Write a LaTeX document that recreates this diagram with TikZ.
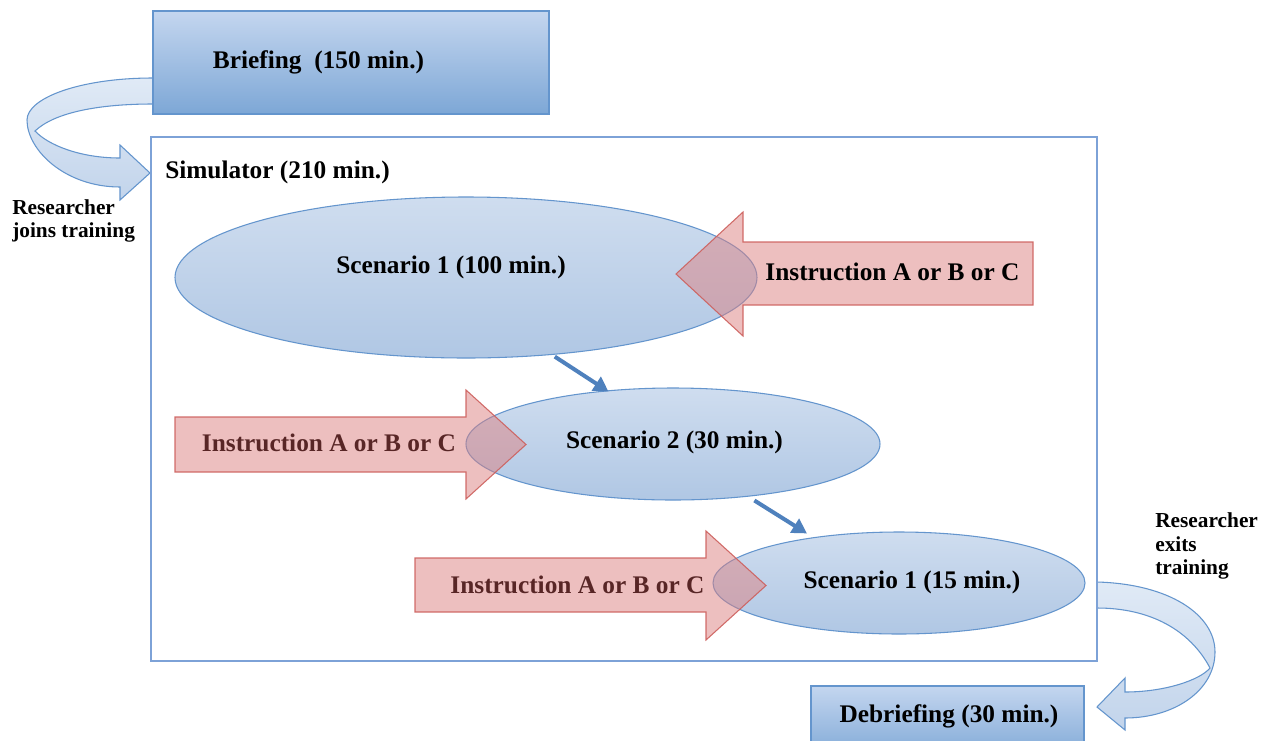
\documentclass[tikz,border=0pt]{standalone}
\usepackage{fontspec}
\setmainfont{Liberation Serif}
\usetikzlibrary{shapes.geometric,arrows.meta,calc}
\definecolor{bluebord}{RGB}{100,149,205}
\definecolor{boxtop}{RGB}{196,214,239}
\definecolor{boxbot}{RGB}{125,167,214}
\definecolor{elltop}{RGB}{207,221,239}
\definecolor{ellbot}{RGB}{176,199,228}
\definecolor{redfill}{RGB}{221,129,129}
\definecolor{redbord}{RGB}{205,95,92}
\definecolor{ribtop}{RGB}{224,234,246}
\definecolor{ribbot}{RGB}{194,212,235}
\definecolor{simbord}{RGB}{125,162,215}
\definecolor{arrblue}{RGB}{79,129,189}
\definecolor{darkred}{RGB}{88,38,38}
\tikzset{
  bigtext/.style={font=\fontsize{19}{22}\selectfont\bfseries, inner sep=0pt},
  sidetext/.style={font=\fontsize{16}{17.3}\selectfont\bfseries, inner sep=0pt, align=left},
  bluebox/.style={draw=bluebord, line width=0.8pt, top color=boxtop, bottom color=boxbot},
  scen/.style={ellipse, draw=bluebord, line width=0.8pt, top color=elltop, bottom color=ellbot, inner sep=0pt, outer sep=0pt},
  redarrow/.style={fill=redfill, fill opacity=0.5, draw=redbord, draw opacity=0.9, line width=0.8pt, line join=miter},
  ribbon/.style={draw=bluebord, line width=0.8pt, top color=ribtop, bottom color=ribbot},
  flow/.style={draw=arrblue, line width=3pt, -{Triangle[length=11pt,width=12pt]}}
}
\begin{document}
\begin{tikzpicture}[x=0.75pt,y=-0.75pt]
\clip (0,0) rectangle (1271,740);
\fill[white] (0,0) rectangle (1271,740);

% ribbons (curved arrows)
\path[ribbon] (153,78) .. controls (80,78) and (27,98) .. (27,120)
  .. controls (27,150) and (65,187) .. (120,187)
  -- (120,200) -- (150,173) -- (120,145) -- (120,158)
  .. controls (80,158) and (48,145) .. (35,131)
  .. controls (55,112) and (100,104) .. (153,104) -- cycle;
\path[ribbon] (1097,582) .. controls (1170,584) and (1215,615) .. (1215,652)
  .. controls (1215,690) and (1175,718) .. (1125,718)
  -- (1125,730) -- (1097,707) -- (1125,678) -- (1125,692)
  .. controls (1165,692) and (1200,680) .. (1210,668)
  .. controls (1190,630) and (1150,608) .. (1097,608) -- cycle;

% briefing
\path[bluebox] (153,11) rectangle (549,114);
\node[bigtext] (brief) at (318.5,62) {Briefing\ \ (150 min.)};

% simulator
\node[draw=simbord, line width=1.1pt, fill=white, minimum width=709.5pt, minimum height=393pt, inner sep=0pt, outer sep=0pt] (sim) at (624,399) {};
\node[bigtext, anchor=west] (simlab) at (165,172) {Simulator (210 min.)};

% scenarios
\node[scen, minimum width=436.5pt, minimum height=120.75pt] (e1) at (466,277.5) {};
\node[scen, minimum width=310.5pt, minimum height=84pt] (e2) at (673,444) {};
\node[scen, minimum width=279pt, minimum height=76.5pt] (e3) at (899,583) {};

% instruction arrows
\path[redarrow] (1033,242) -- (743,242) -- (743,212) -- (676,274) -- (743,336) -- (743,305) -- (1033,305) -- cycle;
\path[redarrow] (175,417) -- (466,417) -- (466,390) -- (526,444.5) -- (466,499) -- (466,472) -- (175,472) -- cycle;
\path[redarrow] (415,558) -- (706,558) -- (706,531) -- (766,585.5) -- (706,640) -- (706,612) -- (415,612) -- cycle;

\node[bigtext] (s1) at (451,267) {Scenario 1 (100 min.)};
\node[bigtext] (s2) at (674.5,442) {Scenario 2 (30 min.)};
\node[bigtext] (s3) at (912,582) {Scenario 1 (15 min.)};
\node[bigtext] (i1) at (892.5,272) {Instruction A or B or C};
\node[bigtext, text=darkred] (i2) at (329,443) {Instruction A or B or C};
\node[bigtext, text=darkred] (i3) at (577.5,585) {Instruction A or B or C};

% flow arrows
\draw[flow, shorten <=3pt, shorten >=-1pt] (e1.-42) -- (e2.141);
\draw[flow, shorten <=6pt, shorten >=6pt] (e2.-35) -- (e3.152);

% debriefing
\path[bluebox] (811,686) rectangle (1084,760);
\node[bigtext] (debrief) at (949,716) {Debriefing (30 min.)};

% side labels
\node[sidetext, anchor=west] (join) at (12,220.5) {Researcher\\joins training};
\node[sidetext, anchor=west] (exit) at (1155,546) {Researcher\\exits\\training};
\end{tikzpicture}
\end{document}
